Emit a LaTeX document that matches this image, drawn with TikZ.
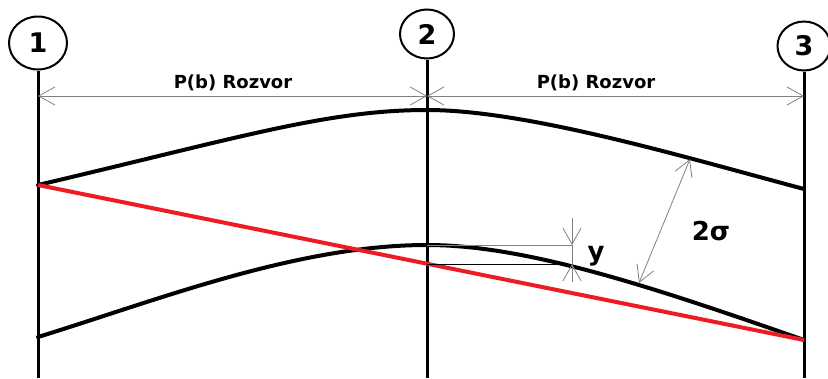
\documentclass[tikz,border=0pt]{standalone}
\usepackage{fontspec}
\setmainfont{DejaVu Sans}
\usetikzlibrary{shapes.geometric, arrows.meta}
\definecolor{paintred}{RGB}{237,28,36}

\begin{document}
\begin{tikzpicture}[x=1pt, y=-1pt,
		station/.style={draw, ellipse, line width=2pt, inner sep=0pt, font=\fontsize{27}{27}\selectfont\bfseries},
		pole/.style={line width=3pt},
		wire/.style={line width=4pt, line cap=round},
		chord/.style={line width=4pt, paintred},
		dim/.style={line width=0.8pt, gray},
		dimlabel/.style={font=\fontsize{18}{18}\selectfont\bfseries, anchor=base},
		biglabel/.style={font=\fontsize{26}{26}\selectfont\bfseries},
		>={Straight Barb[length=16pt, width=18pt]}
		]
		\useasboundingbox (0,0) rectangle (828,378);
		
		% Poles
		\node[station, minimum width=58pt, minimum height=53pt] (c1) at (38,43) {1};
		\node[station, minimum width=54pt, minimum height=49pt] (c2) at (427,34) {2};
		\node[station, minimum width=53pt, minimum height=49pt] (c3) at (804,46) {3};
		\coordinate (b1) at (38,378);
		\coordinate (b2) at (427,378);
		\coordinate (b3) at (804,378);
		\draw[pole] (c1.south) -- (b1);
		\draw[pole] (c2.south) -- (b2);
		\draw[pole] (c3.south) -- (b3);
		
		% Spans
		\coordinate (d1) at (38,96);
		\coordinate (d2) at (427,96);
		\coordinate (d3) at (804,96);
		\draw[dim, <->] (d1) -- (d2);
		\draw[dim, <->] (d2) -- (d3);
		\node[dimlabel] (span12) at (233,88) {P(b) Rozvor};
		\node[dimlabel] (span23) at (596,88) {P(b) Rozvor};
		
		% Conductor curves
		\coordinate (u1) at (38,185);
		\coordinate (u2) at (427,110);
		\coordinate (u3) at (804,189);
		\coordinate (l1) at (38,337);
		\coordinate (l2) at (427,245);
		\coordinate (l3) at (804,340);
		\draw[wire] (u1) .. controls (238,138) and (327,110) .. (u2)
			.. controls (527,110) and (684,157) .. (u3);
		\draw[wire] (l1) .. controls (158,300) and (297,245) .. (l2)
			.. controls (527,245) and (654,287.5) .. (l3);
		\draw[chord] (u1) -- (l3);
		
		% Sag y
		\coordinate (r2) at (427,264);
		\coordinate (y1) at (572,218);
		\coordinate (y2) at (572,245);
		\coordinate (y3) at (572,264);
		\coordinate (y4) at (572,282);
		\draw[dim] (l2) -- (y2);
		\draw[line width=0.8pt] (r2) -- (y3);
		\draw[dim, ->] (y1) -- (y2);
		\draw[dim] (y2) -- (y3);
		\draw[dim, ->] (y4) -- (y3);
		\node[biglabel] (sag) at (596,256) {y};
		
		% Band 2 sigma
		\coordinate (s1) at (690,159);
		\coordinate (s2) at (639,283);
		\draw[dim, <->] (s1) -- (s2);
		\node[biglabel] (band) at (711,231) {2σ};
	\end{tikzpicture}
\end{document}
